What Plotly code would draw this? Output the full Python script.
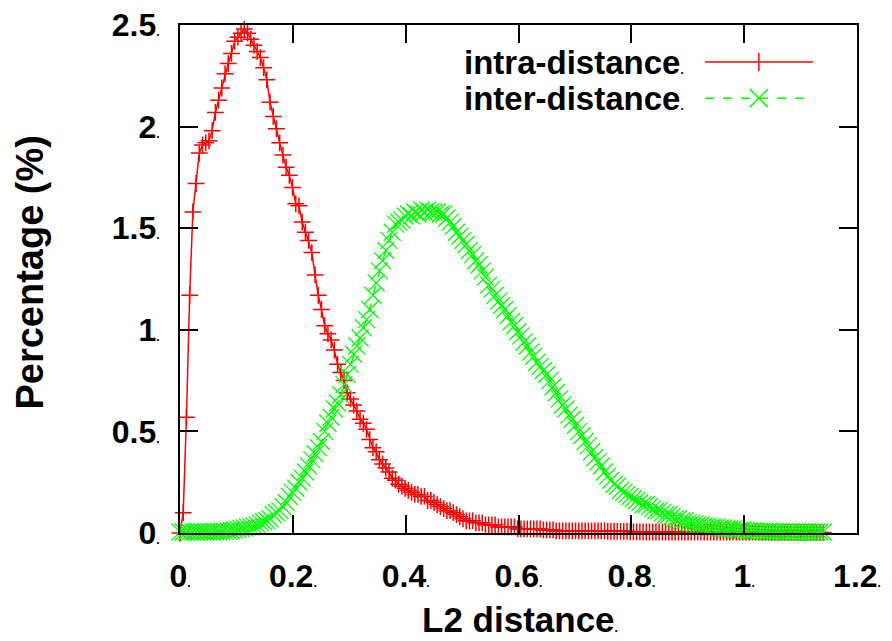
import plotly.graph_objects as go

# ---------------------------------------------------------
# Data: histogram of L2 distances (bin centres, % per bin)
# ---------------------------------------------------------
bin_width = 0.0057
distance = [round(i * bin_width, 4) for i in range(201)]

intra_distance = [
    0.0, 0.10, 0.57, 1.17, 1.58, 1.72, 1.87, 1.91, 1.92, 1.93,
    1.98, 2.07, 2.13, 2.19, 2.26, 2.31, 2.36, 2.42, 2.44, 2.46,
    2.48, 2.46, 2.43, 2.40, 2.37, 2.34, 2.29, 2.23, 2.12, 2.05,
    1.99, 1.92, 1.86, 1.80, 1.76, 1.70, 1.62, 1.61, 1.53, 1.48,
    1.44, 1.38, 1.27, 1.17, 1.10, 1.02, 0.98, 0.95, 0.90, 0.83,
    0.79, 0.75, 0.69, 0.66, 0.63, 0.60, 0.56, 0.54, 0.51, 0.46,
    0.42, 0.40, 0.36, 0.34, 0.32, 0.30, 0.27, 0.26, 0.24, 0.23,
    0.22, 0.21, 0.20, 0.19, 0.19, 0.18, 0.18, 0.16, 0.16, 0.15,
    0.14, 0.13, 0.12, 0.11, 0.11, 0.10, 0.09, 0.08, 0.07, 0.06,
    0.06, 0.06, 0.05, 0.05, 0.05, 0.04, 0.04, 0.04, 0.04, 0.03,
    0.03, 0.03, 0.03, 0.03, 0.03, 0.02, 0.02, 0.02, 0.02, 0.02,
    0.02, 0.02, 0.02, 0.015, 0.015, 0.015, 0.015, 0.01, 0.01, 0.01,
    0.01, 0.01, 0.01, 0.01, 0.01, 0.01, 0.01, 0.01, 0.01, 0.01,
    0.01, 0.01, 0.01, 0.008, 0.008, 0.008, 0.008, 0.008, 0.008, 0.008,
    0.006, 0.006, 0.006, 0.006, 0.006, 0.005, 0.005, 0.005, 0.005, 0.005,
    0.005, 0.005, 0.005, 0.005, 0.005, 0.005, 0.005, 0.005, 0.005, 0.005,
    0.004, 0.004, 0.004, 0.004, 0.004, 0.004, 0.004, 0.004, 0.004, 0.004,
    0.004, 0.004, 0.004, 0.004, 0.004, 0.004, 0.004, 0.004, 0.004, 0.004,
    0.003, 0.003, 0.003, 0.003, 0.003, 0.003, 0.003, 0.003, 0.003, 0.003,
    0.003, 0.003, 0.003, 0.003, 0.003, 0.003, 0.003, 0.003, 0.003, 0.003,
    0.003,
]

inter_distance = [
    0.005, 0.005, 0.005, 0.005, 0.005, 0.005, 0.005, 0.005, 0.005, 0.005,
    0.005, 0.006, 0.006, 0.007, 0.008, 0.010, 0.012, 0.015, 0.018, 0.022,
    0.025, 0.03, 0.03, 0.035, 0.04, 0.05, 0.055, 0.06, 0.07, 0.09,
    0.10, 0.11, 0.13, 0.15, 0.18, 0.20, 0.22, 0.25, 0.27, 0.30,
    0.33, 0.36, 0.39, 0.42, 0.45, 0.50, 0.54, 0.57, 0.61, 0.64,
    0.68, 0.73, 0.78, 0.83, 0.88, 0.92, 0.96, 1.01, 1.05, 1.10,
    1.17, 1.23, 1.29, 1.34, 1.39, 1.44, 1.48, 1.52, 1.53, 1.54,
    1.56, 1.57, 1.56, 1.58, 1.57, 1.59, 1.58, 1.59, 1.58, 1.58,
    1.58, 1.57, 1.57, 1.55, 1.53, 1.51, 1.48, 1.46, 1.44, 1.42,
    1.39, 1.37, 1.34, 1.32, 1.29, 1.26, 1.22, 1.20, 1.17, 1.14,
    1.12, 1.10, 1.07, 1.04, 1.02, 0.99, 0.97, 0.94, 0.92, 0.89,
    0.87, 0.84, 0.82, 0.80, 0.78, 0.75, 0.72, 0.69, 0.66, 0.63,
    0.61, 0.58, 0.56, 0.53, 0.50, 0.48, 0.45, 0.43, 0.40, 0.37,
    0.35, 0.33, 0.30, 0.28, 0.26, 0.24, 0.23, 0.21, 0.20, 0.19,
    0.18, 0.17, 0.16, 0.15, 0.14, 0.14, 0.13, 0.12, 0.11, 0.11,
    0.10, 0.09, 0.09, 0.08, 0.07, 0.07, 0.06, 0.06, 0.05, 0.05,
    0.045, 0.04, 0.04, 0.035, 0.035, 0.03, 0.03, 0.03, 0.025, 0.025,
    0.02, 0.02, 0.02, 0.015, 0.015, 0.015, 0.01, 0.01, 0.01, 0.01,
    0.008, 0.008, 0.007, 0.007, 0.006, 0.006, 0.006, 0.005, 0.005, 0.005,
    0.005, 0.005, 0.005, 0.005, 0.005, 0.005, 0.005, 0.005, 0.005, 0.005,
    0.005,
]

x_ticks = [0, 0.2, 0.4, 0.6, 0.8, 1.0, 1.2]
x_tick_labels = ["0", "0.2", "0.4", "0.6", "0.8", "1", "1.2"]
y_ticks = [0, 0.5, 1.0, 1.5, 2.0, 2.5]
y_tick_labels = ["0", "0.5", "1", "1.5", "2", "2.5"]

RED = "#ff0000"
GREEN = "#00ff00"
FONT = "Liberation Sans, Arial, sans-serif"
DOT = "<span style='font-size:12px'>.</span>"

# ---------------------------------------------------------
# Traces
# ---------------------------------------------------------
fig = go.Figure()

fig.add_trace(go.Scatter(
    x=distance, y=intra_distance, name="intra-distance",
    mode="lines+markers",
    line=dict(color=RED, width=1.5),
    marker=dict(symbol="cross-thin", size=12, color=RED,
                line=dict(color=RED, width=1.5)),
    cliponaxis=False,
    showlegend=False,
))

fig.add_trace(go.Scatter(
    x=distance, y=inter_distance, name="inter-distance",
    mode="lines+markers",
    line=dict(color=GREEN, width=1.5, dash="dash"),
    marker=dict(symbol="x-thin", size=17, color=GREEN,
                line=dict(color=GREEN, width=1.3)),
    cliponaxis=False,
    showlegend=False,
))

# ---------------------------------------------------------
# Axes (gnuplot look: inside ticks mirrored on all sides)
# ---------------------------------------------------------
axis_common = dict(
    showgrid=False, zeroline=False, automargin=False,
    showline=True, linecolor="black", linewidth=2,
    mirror="ticks", ticks="inside", ticklen=18, tickwidth=2,
    tickcolor="black",
    tickfont=dict(family=FONT, size=32, color="black", weight="bold"),
)

fig.update_xaxes(
    range=[0, 1.2], tickmode="array", tickvals=x_ticks,
    ticktext=[t + DOT for t in x_tick_labels],
    ticklabelstandoff=14,
    **axis_common,
)
fig.update_yaxes(
    range=[0, 2.5], tickmode="array", tickvals=y_ticks,
    ticktext=[t + DOT for t in y_tick_labels],
    ticklabelstandoff=12,
    **axis_common,
)

# ---------------------------------------------------------
# Titles and gnuplot-style legend (text left, sample right)
# ---------------------------------------------------------
fig.add_annotation(text="L2 distance" + DOT, xref="paper", yref="paper",
                   x=0.502, y=-0.17, showarrow=False,
                   font=dict(family=FONT, size=35, color="black", weight="bold"),
                   xanchor="center", yanchor="middle")
fig.add_annotation(text="Percentage (%)", xref="paper", yref="paper",
                   x=-0.222, y=0.514, showarrow=False,
                   font=dict(family=FONT, size=38, color="black", weight="bold"),
                   textangle=-90, xanchor="center", yanchor="middle")

legend_rows = [("intra-distance", RED, "solid", 0.927),
               ("inter-distance", GREEN, "dash", 0.856)]
dx, dy = 9 / 677, 9 / 508
for label, color, dash, ly in legend_rows:
    fig.add_annotation(text=label + DOT, xref="paper", yref="paper",
                       x=0.748, y=ly, showarrow=False,
                       font=dict(family=FONT, size=33, color="black", weight="bold"),
                       xanchor="right", yanchor="middle")
    fig.add_shape(type="line", xref="paper", yref="paper",
                  x0=0.7755, x1=0.935, y0=ly, y1=ly,
                  line=dict(color=color, width=1.5, dash=dash))
    if dash == "solid":
        fig.add_shape(type="line", xref="paper", yref="paper",
                      x0=0.855, x1=0.855, y0=ly - dy, y1=ly + dy,
                      line=dict(color=color, width=1.5))
    else:
        fig.add_shape(type="line", xref="paper", yref="paper",
                      x0=0.855 - dx, x1=0.855 + dx, y0=ly - dy, y1=ly + dy,
                      line=dict(color=color, width=1.5))
        fig.add_shape(type="line", xref="paper", yref="paper",
                      x0=0.855 - dx, x1=0.855 + dx, y0=ly + dy, y1=ly - dy,
                      line=dict(color=color, width=1.5))

fig.update_layout(
    width=892, height=641,
    paper_bgcolor="white", plot_bgcolor="white",
    margin=dict(l=180, r=35, t=25, b=108),
    showlegend=False,
    font=dict(family=FONT, color="black"),
)

# drop the browser's default body margin so the figure sits at (0, 0)
fig.write_html("out.html", config={"displayModeBar": False},
               post_script="document.body.style.margin='0';")
